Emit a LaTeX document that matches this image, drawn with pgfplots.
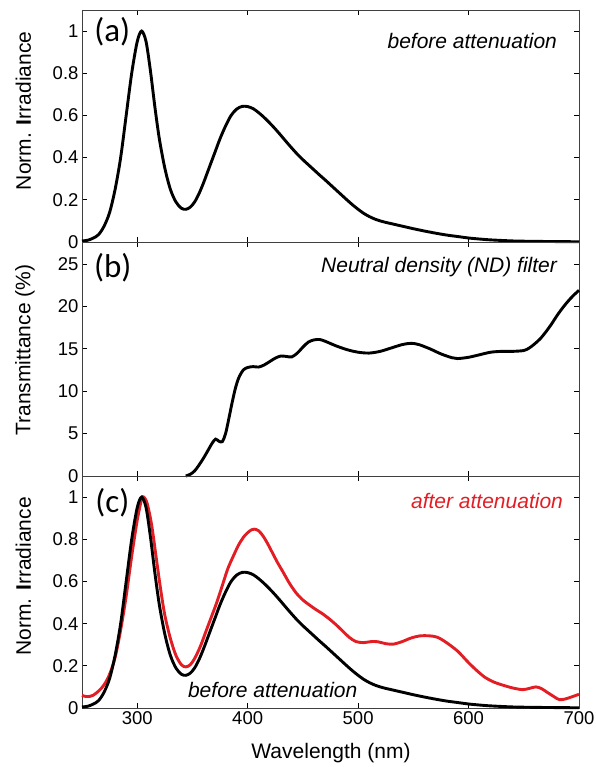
\documentclass[border=0pt]{standalone}
\usepackage{pgfplots}
\pgfplotsset{compat=1.18}
\usepackage{pgfplotstable}
\usepackage{fontspec}
\setmainfont{Liberation Sans}
\newfontfamily\calib{Carlito}
\definecolor{myred}{RGB}{226,30,36}

\pgfplotstableread{
nm val
250 0.005
255 0.008
260 0.018
265 0.035
270 0.075
275 0.14
280 0.25
285 0.40
290 0.60
295 0.80
300 0.95
304 1.00
308 0.95
312 0.81
316 0.64
320 0.49
325 0.35
330 0.25
335 0.19
340 0.16
344 0.155
348 0.165
352 0.19
356 0.23
360 0.28
365 0.35
370 0.42
375 0.49
380 0.55
385 0.60
390 0.63
395 0.643
400 0.642
405 0.632
410 0.613
415 0.590
420 0.564
425 0.536
430 0.506
435 0.475
440 0.445
445 0.416
450 0.390
455 0.366
460 0.342
465 0.318
470 0.295
475 0.271
480 0.247
485 0.223
490 0.199
495 0.176
500 0.155
505 0.136
510 0.121
515 0.109
520 0.100
525 0.093
530 0.087
540 0.075
550 0.063
560 0.052
570 0.042
580 0.033
590 0.026
600 0.019
610 0.014
620 0.010
640 0.005
660 0.003
680 0.002
700 0.001
}\before

\pgfplotstableread{
nm val
344 0
348 0.2
352 0.6
356 1.3
360 2.1
364 3.0
368 3.9
371 4.35
374 4.1
377 4.05
380 5.0
383 6.8
386 8.7
389 10.4
392 11.6
396 12.5
400 12.8
405 12.9
410 12.85
415 13.1
420 13.5
425 13.9
430 14.15
435 14.1
440 14.05
445 14.5
450 15.2
455 15.8
460 16.05
465 16.1
470 15.9
480 15.35
490 14.9
500 14.6
510 14.5
520 14.7
530 15.1
540 15.5
548 15.65
555 15.5
565 15.0
575 14.4
585 13.95
590 13.85
600 14.0
610 14.3
620 14.6
630 14.7
640 14.7
650 14.8
655 15.1
660 15.6
665 16.2
670 17.0
675 17.9
680 18.9
685 19.8
690 20.6
695 21.3
700 21.9
}\trans

\pgfplotstableread{
nm val
250 0.06
253 0.055
257 0.055
260 0.06
265 0.08
270 0.11
275 0.16
280 0.24
285 0.37
290 0.53
295 0.72
300 0.89
304 0.99
306 1.0
309 0.97
313 0.87
317 0.72
321 0.57
325 0.44
330 0.33
335 0.25
340 0.205
344 0.195
348 0.205
352 0.235
357 0.29
362 0.36
367 0.43
372 0.50
377 0.58
382 0.66
387 0.72
392 0.775
397 0.815
402 0.84
406 0.848
410 0.84
414 0.815
418 0.78
422 0.74
427 0.69
432 0.645
438 0.59
444 0.545
450 0.512
456 0.488
462 0.466
468 0.446
474 0.422
480 0.395
486 0.365
492 0.335
498 0.315
505 0.31
512 0.315
518 0.314
525 0.305
532 0.303
540 0.315
548 0.332
556 0.342
565 0.342
572 0.335
580 0.31
590 0.27
600 0.215
608 0.175
615 0.145
622 0.125
630 0.11
640 0.095
649 0.087
655 0.093
661 0.1
666 0.092
671 0.075
677 0.055
682 0.04
687 0.042
693 0.052
700 0.065
}\after

\pgfplotsset{
  panel/.style={
    scale only axis, width=497pt,
    xmin=250, xmax=700, xtick={300,400,500,600,700},
    tick align=inside, xtick pos=both, ytick pos=both,
    major tick length=5pt,
    tick style={black, line width=0.8pt},
    axis line style={black!75, line width=0.9pt},
    every tick label/.append style={font=\fontsize{18.5}{20}\selectfont},
    /pgf/number format/assume math mode=true,
    label style={font=\fontsize{21}{24}\selectfont},
    clip=false,
    every axis plot/.append style={line width=2.9pt, smooth, no markers},
  }
}

\begin{document}
\begin{tikzpicture}
\useasboundingbox (0pt,0pt) rectangle (595pt,767pt);

% panel (a)
\begin{axis}[panel, at={(82pt,525pt)}, anchor=south west, height=232pt,
  ymin=0, ymax=1.1, ytick={0,0.2,0.4,0.6,0.8,1}, xticklabels={},
  ylabel={Norm. \textbf{I}rradiance},
  ylabel style={at={(axis description cs:-0.118,0.565)}, anchor=center}]
\addplot[black] table[x=nm,y=val] {\before};
\node[anchor=center, font=\calib\fontsize{33}{36}\selectfont] at (rel axis cs:0.061,0.905) {(a)};
\node[anchor=east, inner sep=0pt, font=\itshape\fontsize{21}{24}\selectfont] at (rel axis cs:0.956,0.866) {before attenuation};
\end{axis}

% panel (b)
\begin{axis}[panel, at={(82pt,291pt)}, anchor=south west, height=234pt,
  ymin=0, ymax=27.6, ytick={0,5,10,15,20,25}, xticklabels={},
  ylabel={Transmittance (\%)},
  ylabel style={at={(axis description cs:-0.115,0.538)}, anchor=center}]
\addplot[black] table[x=nm,y=val] {\trans};
\node[anchor=center, font=\calib\fontsize{33}{36}\selectfont] at (rel axis cs:0.062,0.889) {(b)};
\node[anchor=east, inner sep=0pt, font=\itshape\fontsize{21}{24}\selectfont] at (rel axis cs:0.956,0.893) {Neutral density (ND) filter};
\end{axis}

% panel (c)
\begin{axis}[panel, at={(82pt,59pt)}, anchor=south west, height=232pt,
  ymin=0, ymax=1.1, ytick={0,0.2,0.4,0.6,0.8,1},
  xlabel={Wavelength (nm)},
  xlabel style={at={(axis description cs:0.501,-0.194)}, anchor=center},
  ylabel={Norm. \textbf{I}rradiance},
  ylabel style={at={(axis description cs:-0.118,0.567)}, anchor=center}]
\addplot[myred] table[x=nm,y=val] {\after};
\addplot[black] table[x=nm,y=val] {\before};
\node[anchor=center, font=\calib\fontsize{33}{36}\selectfont] at (rel axis cs:0.061,0.884) {(c)};
\node[anchor=east, inner sep=0pt, text=myred, font=\itshape\fontsize{21}{24}\selectfont] at (rel axis cs:0.968,0.893) {after attenuation};
\node[anchor=west, inner sep=0pt, font=\itshape\fontsize{21}{24}\selectfont] at (rel axis cs:0.213,0.078) {before attenuation};
\end{axis}
\end{tikzpicture}
\end{document}
